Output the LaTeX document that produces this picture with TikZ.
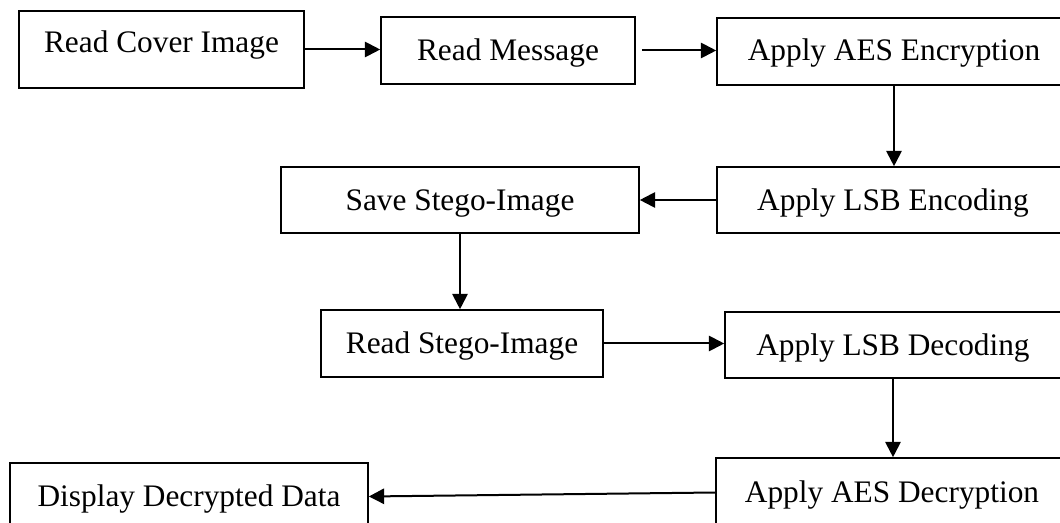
\documentclass[tikz,border=0pt]{standalone}
\usepackage{fontspec}
\setmainfont{Liberation Serif}
\usetikzlibrary{arrows.meta}

\tikzset{
  px/.style={x=0.75pt, y=-0.75pt},
  box/.style={draw=black, line width=1.2pt, fill=white, inner sep=0pt,
    font=\fontsize{23.5pt}{28pt}\selectfont,
    text height=15.4pt, text depth=0pt},
  flow/.style={draw=black, line width=1.5pt,
    -{Triangle[length=11.5pt, width=11.5pt]}}
}

\begin{document}
\begin{tikzpicture}[px]
  \useasboundingbox (0,0) rectangle (1060,523);
  \clip (0,0) rectangle (1060,523);

  % encoding chain
  \node[box, minimum width=285*0.75pt, minimum height=77*0.75pt, text depth=11.25pt]
    (cover) at (161.5,49.5) {Read Cover Image};
  \node[box, minimum width=254*0.75pt, minimum height=67*0.75pt]
    (msg) at (508,50.5) {Read Message};
  \node[box, minimum width=354*0.75pt, minimum height=67*0.75pt, text depth=2pt]
    (aesenc) at (894,51.5) {Apply AES Encryption};
  \node[box, minimum width=352*0.75pt, minimum height=66*0.75pt]
    (lsbenc) at (893,200) {Apply LSB Encoding};
  \node[box, minimum width=358*0.75pt, minimum height=66*0.75pt]
    (save) at (460,200) {Save Stego-Image};

  % decoding chain
  \node[box, minimum width=282*0.75pt, minimum height=67*0.75pt]
    (readst) at (462,343.5) {Read Stego-Image};
  \node[box, minimum width=336*0.75pt, minimum height=66*0.75pt]
    (lsbdec) at (893,345) {Apply LSB Decoding};
  \node[box, minimum width=352*0.75pt, minimum height=69*0.75pt]
    (aesdec) at (892,492.5) {Apply AES Decryption};
  \node[box, minimum width=358*0.75pt, minimum height=67*0.75pt]
    (show) at (189,496.5) {Display Decrypted Data};

  % connectors
  \draw[flow] (cover.east) -- (cover.east -| msg.west);
  \draw[flow, shorten <=4.5pt] (msg.east) -- (msg.east -| aesenc.west);
  \draw[flow] (aesenc.south) -- (aesenc.south |- lsbenc.north);
  \draw[flow] (lsbenc.west) -- (lsbenc.west -| save.east);
  \draw[flow] (save.south) -- (save.south |- readst.north);
  \draw[flow] (readst.east) -- (readst.east -| lsbdec.west);
  \draw[flow] (lsbdec.south) -- (lsbdec.south |- aesdec.north);
  \draw[flow] (aesdec.west) -- (show.east);
\end{tikzpicture}
\end{document}
